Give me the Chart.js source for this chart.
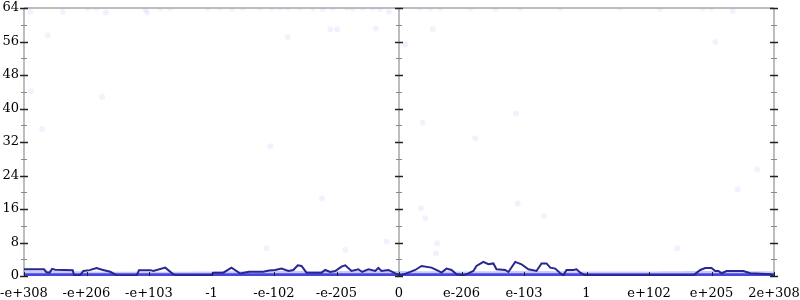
<!DOCTYPE html>
<html>
<head>
<meta charset="utf-8">
<script src="https://cdn.jsdelivr.net/npm/chart.js@4/dist/chart.umd.min.js"></script>
<style>
  body { margin: 0; background: #fff; }
  canvas { display: block; }
</style>
</head>
<body>
<canvas id="myChart" width="800" height="300"></canvas>
<script>
// tick labels along x (bit-pattern position 0..12)
const xTickLabels = ['-e+308', '-e+206', '-e+103', '-1', '-e-102', '-e-205', '0',
    'e-206', 'e-103', '1', 'e+102', 'e+205', '2e+308'];

// dark density line
const lineX = [0, 0.32, 0.36, 0.41, 0.45, 0.5, 0.78, 0.8, 0.9, 0.95, 1.05, 1.16, 1.25, 1.38, 1.48, 1.6,
    1.8, 1.84, 2.02, 2.07, 2.26, 2.39, 2.44, 3.0, 3.03, 3.19, 3.32, 3.46, 3.6, 3.83, 3.92,
    4.02, 4.12, 4.23, 4.31, 4.38, 4.44, 4.52, 4.76, 4.82, 4.9, 4.98, 5.08, 5.14, 5.24, 5.35, 5.41,
    5.51, 5.62, 5.67, 5.72, 5.83, 5.94, 6.02, 6.15, 6.26, 6.36, 6.52, 6.63, 6.68, 6.76, 6.84, 6.92,
    7.03, 7.11, 7.19, 7.24, 7.35, 7.43, 7.51, 7.56, 7.7, 7.75, 7.86, 7.96, 8.07, 8.2, 8.28, 8.36,
    8.42, 8.5, 8.58, 8.63, 8.68, 8.79, 8.84, 8.9, 8.98, 9.03, 10.71, 10.82, 10.9, 11.0, 11.06,
    11.11, 11.16, 11.24, 11.51, 11.62, 11.94, 12.0];
const lineY = [1.6, 1.6, 0.9, 0.8, 1.7, 1.5, 1.4, 0.2, 0.25, 1.2, 1.4, 1.9, 1.5, 1.0, 0.2, 0.1,
    0.1, 1.4, 1.4, 1.2, 2.0, 0.4, 0.15, 0.15, 0.8, 0.8, 2.0, 0.6, 1.0, 1.0, 1.3,
    1.44, 1.76, 1.2, 1.44, 2.56, 2.4, 0.8, 0.8, 1.44, 0.96, 1.2, 2.24, 2.56, 1.2, 1.6, 0.96,
    1.6, 1.2, 1.92, 1.2, 1.44, 0.64, 0.16, 0.8, 1.44, 2.4, 2.0, 1.2, 0.8, 1.76, 1.44, 0.4,
    0.16, 0.64, 1.2, 2.4, 3.37, 2.8, 3.0, 1.6, 1.44, 0.96, 3.37, 2.8, 1.6, 1.2, 3.0, 3.0,
    2.0, 1.76, 0.64, 0.16, 1.44, 1.44, 1.6, 0.8, 0.16, 0.15, 0.15, 1.44, 1.92, 1.92, 1.2,
    1.2, 0.64, 1.2, 1.2, 0.64, 0.4, 0.16];

// faint band of raw samples near zero
const bandX = [0, 1, 2, 3, 4, 5, 6, 7, 8, 9, 10, 11, 12];
const bandY = [1.3, 1.1, 1.0, 1.1, 1.2, 1.2, 1.2, 1.1, 1.2, 1.1, 1.1, 1.2, 1.1];
const baseX = [0, 12];
const baseY = [0.3, 0.3];

// scattered outlier samples
const scatterX = [0.1, 0.62, 1.02, 1.15, 1.31, 1.94, 1.97, 2.18, 2.34, 2.94, 3.14, 3.33, 3.5, 3.78,
    3.97, 4.1, 4.22, 4.42, 4.62, 4.78, 4.94, 5.17, 5.26, 5.42, 5.58, 5.7, 5.84, 6.34, 6.5, 6.66,
    7.14, 7.54, 7.94, 8.58, 9.54, 10.18, 10.86, 11.0, 11.34,
    0.38, 0.11, 1.25, 0.29, 4.22, 4.9, 5.01, 5.63, 6.1, 6.54, 11.06, 7.87, 6.38, 7.22, 7.9,
    6.35, 6.42, 8.32, 3.88, 5.14, 5.8, 6.61, 6.59, 10.45, 11.73, 11.42, 4.77, 3.94];
const scatterY = [63.1, 63.1, 64, 64, 62.9, 63.7, 62.9, 64, 64, 64, 64, 63.8, 64, 64,
    64, 64, 64, 64, 64, 63.8, 64, 64, 63.8, 64, 64, 63.8, 63.1, 64, 64, 64,
    64, 63.8, 64, 64, 64, 63.8, 64, 64, 63.3,
    57.5, 44.1, 42.8, 35.1, 57.1, 58.9, 58.9, 59.1, 55.3, 58.9, 55.9, 38.8, 36.6, 32.9, 17.3,
    16.2, 13.8, 14.3, 6.6, 6.2, 8.2, 7.8, 5.4, 6.6, 25.5, 20.7, 18.5, 31.0];

const yMajor = [0, 8, 16, 24, 32, 40, 48, 56, 64];
const yMinor = [4, 12, 20, 28, 36, 44, 52, 60];
const axisAt = [0, 6, 12];

function pts(xs, ys) {
    return xs.map((x, i) => ({ x: x, y: ys[i] }));
}

// small tick marks on the three vertical axes and along the bottom
const tickMarks = {
    id: 'tickMarks',
    afterDatasetsDraw(chart) {
        const ctx = chart.ctx;
        const xs = chart.scales.x, ys = chart.scales.y;
        ctx.save();
        axisAt.forEach(function (a) {
            const px = xs.getPixelForValue(a);
            ctx.lineWidth = 1;
            ctx.strokeStyle = '#888';
            yMinor.forEach(function (v) {
                const py = Math.round(ys.getPixelForValue(v)) + 0.5;
                ctx.beginPath(); ctx.moveTo(px - 3, py); ctx.lineTo(px + 3, py); ctx.stroke();
            });
            ctx.strokeStyle = '#222';
            ctx.lineWidth = 1.5;
            yMajor.forEach(function (v) {
                const py = Math.round(ys.getPixelForValue(v)) + 0.5;
                ctx.beginPath(); ctx.moveTo(px - 4, py); ctx.lineTo(px + 4, py); ctx.stroke();
            });
        });
        ctx.strokeStyle = '#222';
        ctx.lineWidth = 1;
        const by = ys.getPixelForValue(0);
        xTickLabels.forEach(function (l, i) {
            const px = Math.round(xs.getPixelForValue(i)) + 0.5;
            ctx.beginPath(); ctx.moveTo(px, by); ctx.lineTo(px, by - 4); ctx.stroke();
        });
        ctx.restore();
    }
};

const config = {
    type: 'line',
    data: {
        datasets: [
            {
                data: pts(lineX, lineY),
                borderColor: '#27278f',
                borderWidth: 2,
                pointRadius: 0,
                tension: 0,
                fill: false
            },
            {
                data: pts(baseX, baseY),
                borderColor: 'rgba(55,55,225,0.9)',
                borderWidth: 3,
                pointRadius: 0,
                fill: false
            },
            {
                data: pts(bandX, bandY),
                borderColor: 'rgba(0,0,0,0)',
                borderWidth: 0,
                backgroundColor: 'rgba(130,130,240,0.42)',
                pointRadius: 0,
                tension: 0.3,
                fill: 'origin'
            },
            {
                type: 'scatter',
                data: pts(scatterX, scatterY),
                backgroundColor: 'rgba(150,150,255,0.12)',
                borderWidth: 0,
                pointRadius: 3,
                clip: 0
            }
        ]
    },
    options: {
        responsive: false,
        animation: false,
        layout: { padding: { top: 8, right: 26, left: 0, bottom: 0 } },
        plugins: { legend: { display: false }, tooltip: { enabled: false } },
        scales: {
            x: {
                type: 'linear',
                min: 0,
                max: 12,
                afterFit: function (s) { s.height = 24; s.paddingLeft = 0; s.paddingRight = 0; },
                border: { display: false },
                grid: {
                    drawTicks: false,
                    lineWidth: 2,
                    color: c => (c.tick && axisAt.includes(c.tick.value)) ? '#bdbdbd' : 'rgba(0,0,0,0)'
                },
                ticks: {
                    stepSize: 1,
                    autoSkip: false,
                    maxRotation: 0,
                    padding: 10,
                    color: '#000',
                    font: { family: 'DejaVu Serif', size: 13 },
                    callback: v => xTickLabels[v]
                }
            },
            y: {
                min: 0,
                max: 64,
                afterFit: function (s) { s.width = 24; s.paddingTop = 0; s.paddingBottom = 0; },
                border: { display: false },
                grid: {
                    drawTicks: false,
                    lineWidth: 2,
                    color: c => (c.tick && c.tick.value === 64) ? '#bdbdbd' : 'rgba(0,0,0,0)'
                },
                ticks: {
                    stepSize: 8,
                    padding: 5,
                    color: '#000',
                    font: { family: 'DejaVu Serif', size: 13 }
                }
            }
        }
    },
    plugins: [tickMarks]
};

const myChart = new Chart(document.getElementById('myChart'), config);
</script>
</body>
</html>
